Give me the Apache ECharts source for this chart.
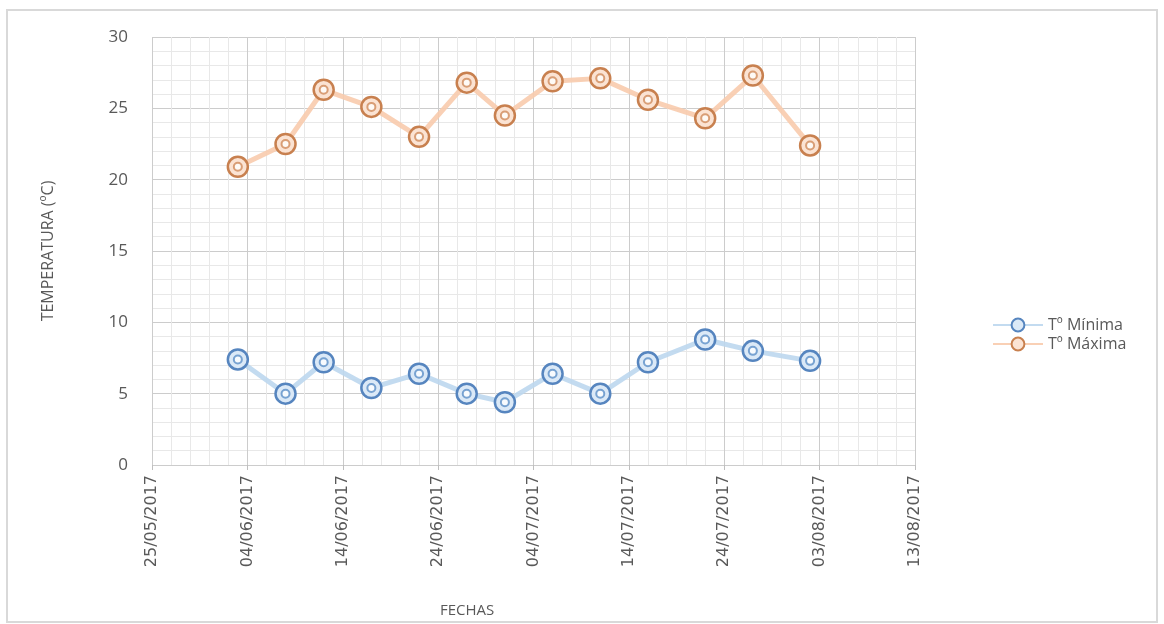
<!DOCTYPE html>
<html>
<head>
  <meta charset="utf-8">
  <title>Temperaturas</title>
  <script src="https://cdn.jsdelivr.net/npm/echarts@6/dist/echarts.min.js"></script>
</head>
<body style="margin:0;background:#fff;">
<div id="main" style="width:1164px;height:624px;"></div>
<script type="text/javascript">
  // datos
  var fechas = ['03/06/2017', '08/06/2017', '12/06/2017', '17/06/2017', '22/06/2017', '27/06/2017', '01/07/2017',
                '06/07/2017', '11/07/2017', '16/07/2017', '22/07/2017', '27/07/2017', '02/08/2017'];
  var tMinima = [7.4, 5.0, 7.2, 5.4, 6.4, 5.0, 4.4, 6.4, 5.0, 7.2, 8.8, 8.0, 7.3];
  var tMaxima = [20.9, 22.5, 26.3, 25.1, 23.0, 26.8, 24.5, 26.9, 27.1, 25.6, 24.3, 27.3, 22.4];
  var fechaInicio = '25/05/2017';
  var diasTotal = 80;

  function toUTC(s) {
    var p = s.split('/');
    return Date.UTC(+p[2], +p[1] - 1, +p[0]);
  }
  var DAY = 86400000;
  var t0 = toUTC(fechaInicio);
  function dia(s) { return Math.round((toUTC(s) - t0) / DAY); }
  function etiqueta(v) {
    var d = new Date(t0 + v * DAY);
    var dd = ('0' + d.getUTCDate()).slice(-2);
    var mm = ('0' + (d.getUTCMonth() + 1)).slice(-2);
    return dd + '/' + mm + '/' + d.getUTCFullYear();
  }
  function pares(vals) {
    return fechas.map(function (f, i) { return [dia(f), vals[i]]; });
  }

  var myChart = echarts.init(document.getElementById('main'));
  var gris = '#595959';
  var option = {
    animation: false,
    backgroundColor: '#fff',
    graphic: [{
      type: 'rect',
      shape: { x: 7, y: 10, width: 1150, height: 612 },
      style: { fill: 'none', stroke: '#d9d9d9', lineWidth: 2 },
      silent: true
    }, {
      // titulo del eje x (desplazado a la izquierda como en el original)
      type: 'text',
      left: 440,
      top: 603,
      silent: true,
      style: { text: 'FECHAS', fill: gris, fontSize: 15, fontFamily: 'Open Sans' }
    }],
    grid: { left: 152, right: 249, top: 37, bottom: 159 },
    legend: {
      orient: 'vertical',
      left: 987,
      top: 312,
      itemWidth: 50,
      itemHeight: 16,
      itemGap: 3,
      data: ['Tº Mínima', 'Tº Máxima'],
      textStyle: { color: gris, fontSize: 16, fontFamily: 'Open Sans' }
    },
    xAxis: {
      type: 'value',
      min: 0,
      max: diasTotal,
      interval: 10,
      axisLine: { show: false },
      axisTick: { show: true, length: 5, lineStyle: { color: '#bfbfbf' } },
      axisLabel: {
        rotate: 90,
        margin: 10,
        color: gris,
        fontSize: 16,
        fontFamily: 'DejaVu Sans',
        formatter: etiqueta
      },
      splitLine: { show: true, lineStyle: { color: '#cccccc', width: 1 } },
      minorTick: { show: false, splitNumber: 5 },
      minorSplitLine: { show: true, lineStyle: { color: '#e8e8e8', width: 1 } }
    },
    yAxis: {
      type: 'value',
      min: 0,
      max: 30,
      interval: 5,
      name: 'TEMPERATURA (ºC)',
      nameLocation: 'middle',
      nameGap: 96,
      nameTextStyle: { color: gris, fontSize: 16, fontFamily: 'Open Sans' },
      axisLine: { show: false },
      axisTick: { show: false },
      axisLabel: { color: gris, fontSize: 17, margin: 24, fontFamily: 'Open Sans' },
      splitLine: { show: true, lineStyle: { color: '#cccccc', width: 1 } },
      minorTick: { show: false, splitNumber: 5 },
      minorSplitLine: { show: true, lineStyle: { color: '#e8e8e8', width: 1 } }
    },
    series: [
      {
        name: 'Tº Mínima',
        type: 'line',
        data: pares(tMinima),
        symbol: 'circle',
        symbolSize: 20,
        z: 3,
        lineStyle: { color: '#bdd7ee', width: 5, opacity: 0.9 },
        itemStyle: { color: '#dbe9f7', borderColor: '#5685bf', borderWidth: 2.5 }
      },
      {
        name: 'Tº Máxima',
        type: 'line',
        data: pares(tMaxima),
        symbol: 'circle',
        symbolSize: 20,
        z: 3,
        lineStyle: { color: '#f8cbad', width: 5, opacity: 0.9 },
        itemStyle: { color: '#fbe3d3', borderColor: '#c8804f', borderWidth: 2.5 }
      },
      {
        name: 'anillo min',
        type: 'scatter',
        data: pares(tMinima),
        symbol: 'emptyCircle',
        symbolSize: 8,
        silent: true,
        z: 4,
        itemStyle: { color: '#5b8fc7', borderWidth: 1.5 }
      },
      {
        name: 'anillo max',
        type: 'scatter',
        data: pares(tMaxima),
        symbol: 'emptyCircle',
        symbolSize: 8,
        silent: true,
        z: 4,
        itemStyle: { color: '#d08a5a', borderWidth: 1.5 }
      }
    ]
  };
  myChart.setOption(option);
</script>
</body>
</html>
